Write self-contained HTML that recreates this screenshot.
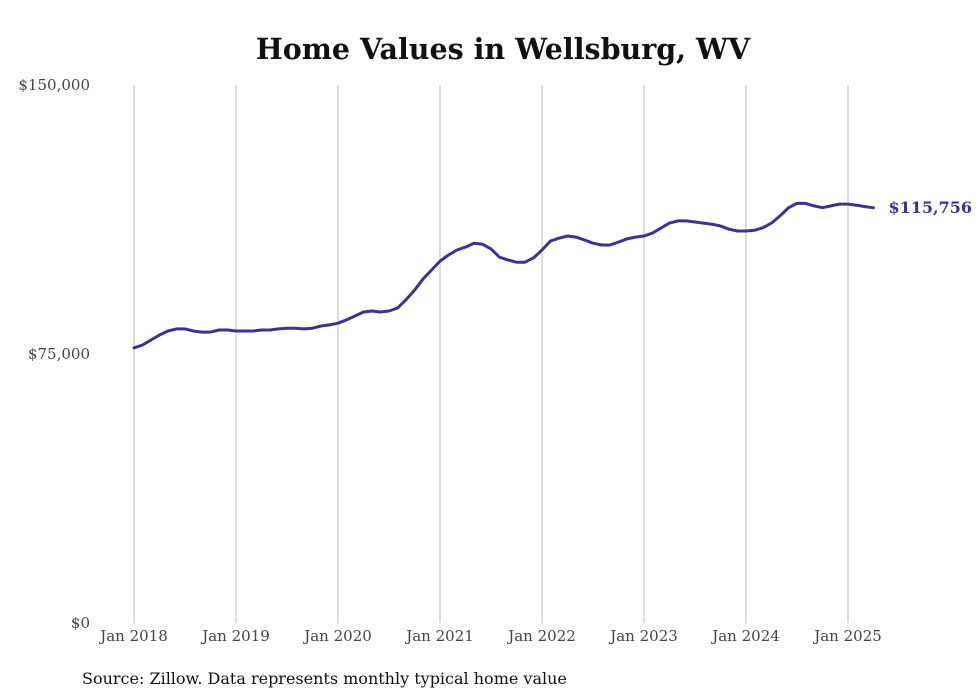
<!DOCTYPE html>
<html><head><meta charset="utf-8"><style>
body{margin:0;background:#fff;}
svg{display:block;font-family:"DejaVu Serif","Liberation Serif",serif;}
</style></head><body>
<svg id="chart" width="980" height="699" viewBox="0 0 980 699">
<text x="503" y="59" text-anchor="middle" font-size="28.5" font-weight="bold" fill="#111">Home Values in Wellsburg, WV</text>
<g id="grid"></g>
<g id="yaxis"></g>
<g id="xaxis"></g>
<g id="series"></g>
<text x="82" y="684" font-size="16" fill="#111">Source: Zillow. Data represents monthly typical home value</text>
</svg>
<script>
const xLabels=["Jan 2018","Jan 2019","Jan 2020","Jan 2021","Jan 2022","Jan 2023","Jan 2024","Jan 2025"];
const yTicks=[0,75000,150000];
const yTickLabels=["$0","$75,000","$150,000"];
const values=[
76700,77500,78900,80300,81400,82000,82000,81400,81100,81100,81700,81700,
81400,81400,81400,81700,81700,82000,82200,82200,82000,82200,82800,83100,
83600,84500,85600,86700,87000,86700,87000,87800,90100,92800,95900,98400,
100900,102600,104000,104800,105900,105600,104300,102000,101200,100600,100600,101800,
104000,106500,107300,107900,107600,106800,105900,105400,105400,106200,107100,107600,
107900,108700,110100,111500,112100,112100,111800,111500,111200,110700,109800,109300,
109300,109500,110200,111500,113500,115800,117000,117000,116300,115800,116300,116800,
116800,116500,116100,115756];
const lastLabel="$115,756";
const ns="http://www.w3.org/2000/svg";
const x0=134,pxPerMonth=102/12;
const X=i=>x0+i*pxPerMonth;
const Y=v=>623-(v/150000)*538;
function mk(tag,attrs,parent){const e=document.createElementNS(ns,tag);for(const k in attrs)e.setAttribute(k,attrs[k]);parent.appendChild(e);return e;}
const grid=document.getElementById('grid'),xa=document.getElementById('xaxis'),ya=document.getElementById('yaxis'),ser=document.getElementById('series');
xLabels.forEach((l,i)=>{
  const x=X(i*12);
  const g=mk('line',{x1:x,x2:x,y1:85,y2:623,stroke:'#bdbdbd','stroke-width':1},grid);
  
  
  const t=mk('text',{x:x,y:641,'text-anchor':'middle','font-size':15,fill:'#444'},xa);
  t.textContent=l;
  
  
});
yTicks.forEach((v,i)=>{
  const t=mk('text',{x:90,y:Y(v)+5,'text-anchor':'end','font-size':15,fill:'#444'},ya);
  t.textContent=yTickLabels[i];
  
  
});
const d=values.map((v,i)=>(i?'L':'M')+X(i).toFixed(1)+','+Y(v).toFixed(1)).join(' ');
const p=mk('path',{d:d,fill:'none',stroke:'#3c3391','stroke-width':3,'stroke-linejoin':'round','stroke-linecap':'round'},ser);


const li=values.length-1;
const lt=mk('text',{x:X(li)+15,y:Y(values[li])+5,'font-size':16,'font-weight':'bold',fill:'#3c3391'},ser);
lt.textContent=lastLabel;


</script>
</body></html>
